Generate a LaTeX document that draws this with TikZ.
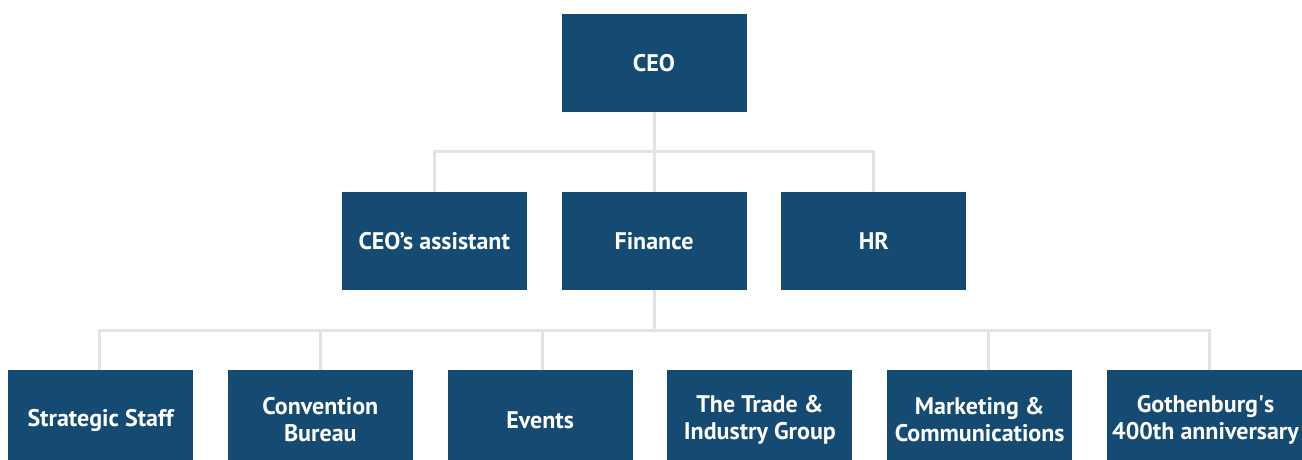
\documentclass[tikz,border=0pt]{standalone}
\usepackage{fontspec}
\setmainfont{PT Sans}
\usetikzlibrary{positioning}
\definecolor{navy}{RGB}{21, 74, 115}
\definecolor{wire}{RGB}{227, 227, 227}

\begin{document}
\begin{tikzpicture}[x=0.5pt, y=-0.5pt, node distance=40pt and 17.4pt,
        unit/.style={
                rectangle,
                fill=navy,
                text=white,
                font=\bfseries\fontsize{12}{13.5}\selectfont,
                align=center,
                minimum width=92.5pt,
                minimum height=49pt,
                inner sep=0pt,
                outer sep=0pt
            },
        link/.style={wire, line width=1.5pt}
    ]
    \useasboundingbox (0,0) rectangle (1302,460);

    \node (ceo) [unit] at (654,63) {CEO};
    \node (fin) [unit, below=of ceo] {Finance};
    \node (asst) [unit, left=of fin] {CEO’s assistant};
    \node (hr) [unit, right=of fin] {HR};

    \node (staff) [unit, minimum height=50pt] at (100.5,420) {Strategic Staff};
    \node (conv) [unit, minimum height=50pt, right=of staff] {Convention\\Bureau};
    \node (events) [unit, minimum height=50pt, right=of conv] {Events};
    \node (trade) [unit, minimum height=50pt, right=of events] {The Trade \&\\Industry Group};
    \node (mkt) [unit, minimum height=50pt, right=of trade] {Marketing \&\\Communications};
    \node (gbg) [unit, minimum height=50pt, right=of mkt, minimum width=98.5pt] {Gothenburg\textquotesingle s\\400th anniversary};

    \draw[link] (ceo.south) -- (fin.north);
    \draw[link] (asst.north) -- ++(0,-40) -| (hr.north);

    \draw[link] (fin.south) -- ++(0,40);
    \draw[link] ([xshift=-0.75pt]staff.north) -- ++(0,-40) -| ([xshift=1.75pt]gbg.north);
    \draw[link] (conv.north) -- ++(0,-40);
    \draw[link] ([xshift=1.25pt]events.north) -- ++(0,-40);
    \draw[link] ([xshift=4.25pt]mkt.north) -- ++(0,-40);
\end{tikzpicture}
\end{document}
